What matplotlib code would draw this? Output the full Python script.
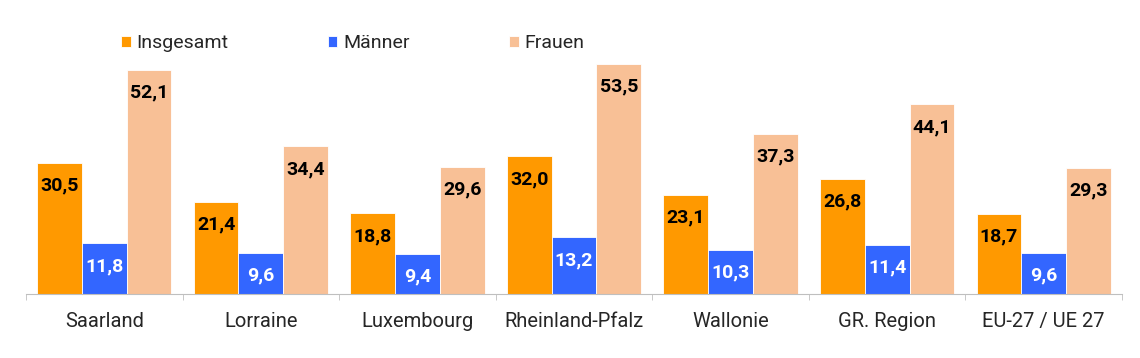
import matplotlib.pyplot as plt
import numpy as np

plt.rcParams['font.family'] = ['Roboto', 'DejaVu Sans']

regions = ['Saarland', 'Lorraine', 'Luxembourg', 'Rheinland-Pfalz', 'Wallonie', 'GR. Region', 'EU-27 / UE 27']
insgesamt = [30.5, 21.4, 18.8, 32.0, 23.1, 26.8, 18.7]
maenner = [11.8, 9.6, 9.4, 13.2, 10.3, 11.4, 9.6]
frauen = [52.1, 34.4, 29.6, 53.5, 37.3, 44.1, 29.3]

series = [('Insgesamt', insgesamt, '#FF9900', 'black'),
          ('Männer', maenner, '#3366FF', 'white'),
          ('Frauen', frauen, '#F8C096', 'black')]

fig = plt.figure(figsize=(11.4, 3.58), dpi=100)
ax = fig.add_axes([26 / 1140, 64 / 358, 1096 / 1140, 258 / 358])

x = np.arange(len(regions))
w = 0.286
for i, (name, vals, col, tcol) in enumerate(series):
    pos = x + (i - 1) * w
    bars = ax.bar(pos, vals, w, color=col, label=name, edgecolor='white', linewidth=0.6)
    for b, v in zip(bars, vals):
        ax.annotate(f'{v:.1f}'.replace('.', ','), (b.get_x() + b.get_width() / 2, v),
                    xytext=(0, -16.5), textcoords='offset points', ha='center', va='center',
                    fontsize=14, fontweight='bold', color=tcol)

ax.set_xlim(-0.5, len(regions) - 0.5)
ax.set_ylim(0, 60)
for s in ['top', 'right', 'left']:
    ax.spines[s].set_visible(False)
ax.spines['bottom'].set_color('#BFBFBF')
ax.set_yticks([])
ax.set_xticks(x)
ax.set_xticklabels(regions, fontsize=14.5, color='#262626')
ax.tick_params(axis='x', length=0, pad=13)
ax.set_xticks(np.arange(len(regions) + 1) - 0.5, minor=True)
ax.tick_params(axis='x', which='minor', length=4.5, color='#BFBFBF')

ax.legend(loc='center left', bbox_to_anchor=(121 / 1140, 1 - 43 / 358),
          bbox_transform=fig.transFigure, ncol=3, frameon=False,
          borderpad=0, borderaxespad=0,
          fontsize=14, handlelength=0.5, handleheight=0.5, handletextpad=0.3,
          columnspacing=5.1, labelcolor='#262626')

fig.savefig('out.png', dpi=100)
